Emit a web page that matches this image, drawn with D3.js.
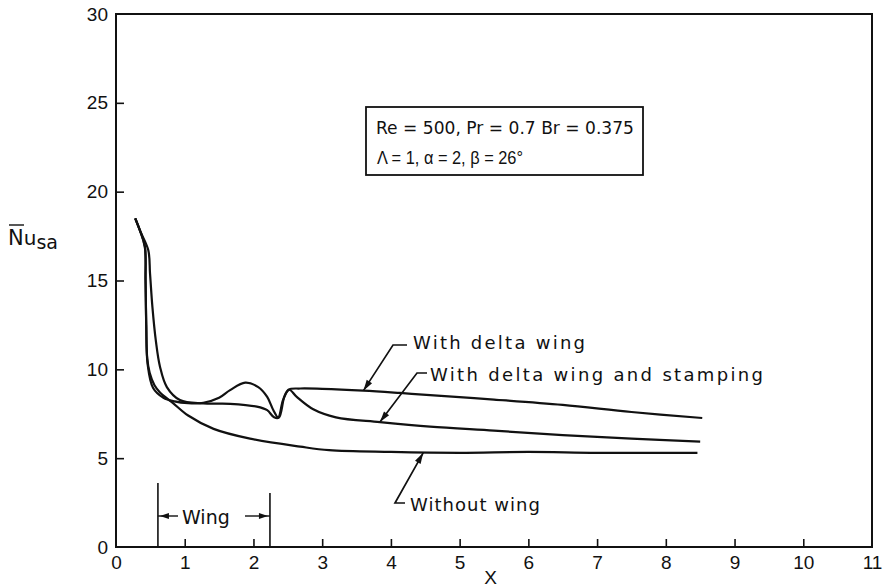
<!DOCTYPE html>
<html><head><meta charset="utf-8">
<script src="https://cdn.jsdelivr.net/npm/d3@7"></script>
<style>body{margin:0;background:#fff}</style>
</head><body>
<svg id="c" width="883" height="588"></svg>
<script>
// ---- data ----
const xTicks = [0,1,2,3,4,5,6,7,8,9,10,11];
const yTicks = [0,5,10,15,20,25,30];

const withoutWing = [[0.28,18.5],[0.35,17.8],[0.42,16.9],[0.43,15.0],[0.44,12.5],[0.455,10.6],[0.49,9.8],[0.56,9.1],[0.64,8.7],[0.83,8.1],[1.05,7.4],[1.42,6.65],[1.95,6.1],[2.68,5.65],[3.1,5.45],[4.0,5.35],[5.0,5.3],[6.0,5.35],[7.0,5.3],[8.46,5.3]];
const withDeltaWing = [[0.28,18.5],[0.35,17.8],[0.42,16.9],[0.43,15.0],[0.44,12.5],[0.46,10.3],[0.54,8.95],[0.69,8.4],[0.85,8.2],[1.05,8.1],[1.27,8.12],[1.5,8.4],[1.66,8.83],[1.88,9.25],[2.07,9.0],[2.2,8.45],[2.29,7.7],[2.36,7.3],[2.43,8.27],[2.51,8.85],[2.68,8.92],[3.0,8.9],[3.6,8.8],[4.13,8.67],[4.57,8.55],[5.5,8.3],[6.5,8.0],[7.5,7.6],[8.53,7.26]];
const withStamping = [[0.28,18.5],[0.35,17.8],[0.47,16.7],[0.495,15.4],[0.53,13.5],[0.58,11.6],[0.64,10.15],[0.74,9.0],[0.93,8.27],[1.27,8.08],[1.66,8.06],[2.05,7.9],[2.2,7.7],[2.3,7.3],[2.37,7.28],[2.45,8.45],[2.52,8.85],[2.63,8.45],[2.87,7.75],[3.2,7.3],[3.84,7.03],[4.57,6.77],[5.5,6.55],[6.5,6.3],[7.5,6.1],[8.5,5.93]];

const seriesLabels = ["With delta wing", "With delta wing and stamping", "Without wing"];
const paramsLine1 = "Re = 500,  Pr = 0.7   Br = 0.375";
const paramsLine2 = "\u039B = 1, \u03B1 = 2, \u03B2 = 26\u00B0";
const wingStart = 0.61, wingEnd = 2.24;

// ---- drawing ----
const svg = d3.select("#c");
const FONT = "'Liberation Sans', Arial, sans-serif";
const AFONT = "'DejaVu Sans', sans-serif";
const x = d3.scaleLinear([0,11],[116,872]);
const y = d3.scaleLinear([0,30],[547,14]);

// frame
svg.append("rect").attr("x",x(0)).attr("y",y(30)).attr("width",x(11)-x(0)).attr("height",y(0)-y(30))
  .attr("fill","none").attr("stroke","#111").attr("stroke-width",2);

const gx = svg.append("g").attr("transform",`translate(0,${y(0)})`)
  .call(d3.axisBottom(x).tickValues(xTicks).tickFormat(d3.format("d")).tickSize(-8).tickPadding(9));
gx.select(".domain").remove();
gx.selectAll(".tick line").attr("stroke","#111").attr("stroke-width",1.6)
  .filter(d => d===0 || d===11).remove();
gx.selectAll(".tick text").attr("font-family",FONT).attr("font-size",19).attr("fill","#111");

const gy = svg.append("g").attr("transform",`translate(${x(0)},0)`)
  .call(d3.axisLeft(y).tickValues(yTicks).tickFormat(d3.format("d")).tickSize(-8).tickPadding(8));
gy.select(".domain").remove();
gy.selectAll(".tick line").attr("stroke","#111").attr("stroke-width",1.6)
  .filter(d => d===0 || d===30).remove();
gy.selectAll(".tick text").attr("font-family",FONT).attr("font-size",19).attr("fill","#111");

// curves
const line = d3.line().x(d=>x(d[0])).y(d=>y(d[1])).curve(d3.curveCatmullRom.alpha(0.5));
[withoutWing, withDeltaWing, withStamping].forEach(s => {
  svg.append("path").datum(s).attr("d",line).attr("fill","none")
    .attr("stroke","#111").attr("stroke-width",2.2).attr("stroke-linejoin","round");
});

// helpers
function arrowHead(tip, from, len=11, hw=3.2) {
  const dx = tip[0]-from[0], dy = tip[1]-from[1];
  const L = Math.hypot(dx,dy), ux = dx/L, uy = dy/L;
  const bx = tip[0]-ux*len, by = tip[1]-uy*len;
  svg.append("path").attr("d",`M${tip[0]},${tip[1]}L${bx-uy*hw},${by+ux*hw}L${bx+uy*hw},${by-ux*hw}Z`)
    .attr("fill","#111");
}
function leader(tipData, elbow, hookEnd) {
  const tip = [x(tipData[0]), y(tipData[1])];
  svg.append("path").attr("d",`M${tip[0]},${tip[1]}L${elbow[0]},${elbow[1]}L${hookEnd[0]},${hookEnd[1]}`)
    .attr("fill","none").attr("stroke","#111").attr("stroke-width",1.7);
  arrowHead(tip, elbow);
}
function label(txt, px, py, w, size, fam, adj="spacing") {
  svg.append("text").attr("x",px).attr("y",py).attr("font-family",fam).attr("font-size",size)
    .attr("fill","#111").attr("textLength",w).attr("lengthAdjust",adj).text(txt);
}

// series annotations
leader([3.6,8.8],[393,345],[407,345]);
label(seriesLabels[0], 413, 349, 172, 18, AFONT);
leader([3.84,7.03],[417,373],[427,373]);
label(seriesLabels[1], 430, 381, 333, 18, AFONT);
leader([4.47,5.3],[395,503],[405,503]);
label(seriesLabels[2], 410, 511, 130, 18, AFONT);

// parameter box
svg.append("rect").attr("x",366).attr("y",107).attr("width",643-366).attr("height",68)
  .attr("fill","#fff").attr("stroke","#111").attr("stroke-width",1.8);
label(paramsLine1, 376, 134, 258, 18, AFONT, "spacingAndGlyphs");
label(paramsLine2, 377, 164, 146, 18, FONT, "spacingAndGlyphs");

// wing extent annotation
const wy = 516;
svg.append("line").attr("x1",x(wingStart)).attr("x2",x(wingStart)).attr("y1",483).attr("y2",y(0))
  .attr("stroke","#111").attr("stroke-width",1.6);
svg.append("line").attr("x1",x(wingEnd)).attr("x2",x(wingEnd)).attr("y1",493).attr("y2",y(0))
  .attr("stroke","#111").attr("stroke-width",1.6);
svg.append("line").attr("x1",x(wingStart)).attr("x2",178).attr("y1",wy).attr("y2",wy).attr("stroke","#111").attr("stroke-width",1.4);
arrowHead([x(wingStart)+2,wy],[178,wy],9,3);
svg.append("line").attr("x1",245).attr("x2",x(wingEnd)).attr("y1",wy).attr("y2",wy).attr("stroke","#111").attr("stroke-width",1.4);
arrowHead([x(wingEnd)-2,wy],[245,wy],9,3);
svg.append("text").attr("x",182).attr("y",524).attr("font-family",AFONT).attr("font-size",19).attr("fill","#111").text("Wing");

// axis titles
svg.append("text").attr("x",x(5.45)).attr("y",584).attr("text-anchor","middle")
  .attr("font-family",FONT).attr("font-size",19).attr("fill","#111").text("X");
const yl = svg.append("text").attr("x",8).attr("y",245).attr("font-family",AFONT).attr("fill","#111");
yl.append("tspan").attr("font-size",21).text("N");
yl.append("tspan").attr("font-size",20).text("u");
yl.append("tspan").attr("font-size",19).attr("dy",4).text("sa");
svg.append("line").attr("x1",9).attr("x2",24).attr("y1",225).attr("y2",225).attr("stroke","#111").attr("stroke-width",1.4);
</script>
</body></html>
